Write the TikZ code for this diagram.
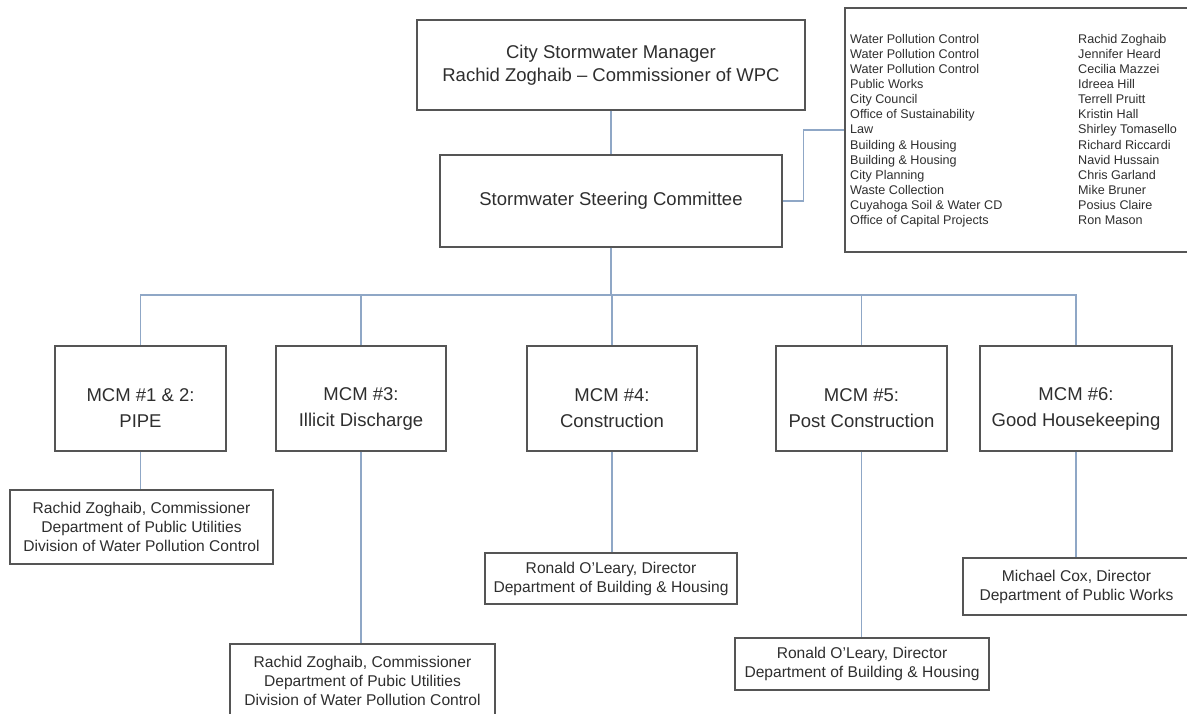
\documentclass[tikz,border=0pt]{standalone}
\usepackage{fontspec}
\setmainfont{Liberation Sans}
\definecolor{boxgray}{HTML}{555555}
\definecolor{txtgray}{HTML}{2E2E2E}
\definecolor{wire}{HTML}{8FA7C6}

\begin{document}
\begin{tikzpicture}[x=1pt, y=-1pt,
    box/.style={draw=boxgray, line width=1.2pt, inner sep=0pt, text=txtgray, align=center},
    bigtext/.style={font=\fontsize{18.5}{22.5}\selectfont},
    mcmbox/.style={box, minimum width=171pt, minimum height=105pt},
    mcmtext/.style={inner sep=0pt, text=txtgray, align=center, font=\fontsize{18.5}{26}\selectfont},
    headbox/.style={box, font=\fontsize{15.6}{19}\selectfont},
    listtext/.style={inner sep=0pt, text=txtgray, align=left, anchor=north west, font=\fontsize{12.6}{15.1}\selectfont},
    wireline/.style={draw=wire, line width=1.2pt}]

    \useasboundingbox (0,0) rectangle (1187,713);
    \clip (0,0) rectangle (1187,713);

    % Top: manager and steering committee
    \node[box, bigtext, minimum width=388pt, minimum height=90pt] (manager) at (611,65)
        {City Stormwater Manager\\Rachid Zoghaib -- Commissioner of WPC};
    \node[box, bigtext, minimum width=342pt, minimum height=92pt] (steering) at (611,201)
        {Stormwater Steering Committee};

    % Committee members
    \node[box, minimum width=355pt, minimum height=244pt] (members) at (1022.5,130) {};
    \node[listtext] (depts) at (850,34) {Water Pollution Control\\Water Pollution Control\\Water Pollution Control\\Public Works\\City Council\\Office of Sustainability\\Law\\Building \& Housing\\Building \& Housing\\City Planning\\Waste Collection\\Cuyahoga Soil \& Water CD\\Office of Capital Projects};
    \node[listtext] (names) at (1078,34) {Rachid Zoghaib\\Jennifer Heard\\Cecilia Mazzei\\Idreea Hill\\Terrell Pruitt\\Kristin Hall\\Shirley Tomasello\\Richard Riccardi\\Navid Hussain\\Chris Garland\\Mike Bruner\\Posius Claire\\Ron Mason};

    % MCM boxes
    \node[mcmbox] (mcm1) at (140.5,398.5) {};
    \node[mcmbox, minimum width=170pt] (mcm3) at (361,398.5) {};
    \node[mcmbox, minimum width=170pt] (mcm4) at (612,398.5) {};
    \node[mcmbox] (mcm5) at (861.5,398.5) {};
    \node[mcmbox, minimum width=192pt] (mcm6) at (1076,398.5) {};
    \node[mcmtext] (mcm1t) at ([yshift=-10pt]mcm1.center) {MCM \#1 \& 2:\\PIPE};
    \node[mcmtext] (mcm3t) at ([yshift=-10pt]mcm3.center) {MCM \#3:\\Illicit Discharge};
    \node[mcmtext] (mcm4t) at ([yshift=-10pt]mcm4.center) {MCM \#4:\\Construction};
    \node[mcmtext] (mcm5t) at ([yshift=-10pt]mcm5.center) {MCM \#5:\\Post Construction};
    \node[mcmtext] (mcm6t) at ([yshift=-10pt]mcm6.center) {MCM \#6:\\Good Housekeeping};

    % Heads
    \node[headbox, minimum width=263pt, minimum height=74pt] (head1) at (141.5,527)
        {Rachid Zoghaib, Commissioner\\Department of Public Utilities\\Division of Water Pollution Control};
    \node[headbox, minimum width=265pt, minimum height=74pt] (head3) at (362.5,681)
        {Rachid Zoghaib, Commissioner\\Department of Pubic Utilities\\Division of Water Pollution Control};
    \node[headbox, minimum width=252pt, minimum height=51pt] (head4) at (611,578.5)
        {Ronald O'Leary, Director\\Department of Building \& Housing};
    \node[headbox, minimum width=254pt, minimum height=52pt] (head5) at (862,664)
        {Ronald O'Leary, Director\\Department of Building \& Housing};
    \node[headbox, minimum width=227pt, minimum height=57pt] (head6) at (1076.5,586.5)
        {Michael Cox, Director\\Department of Public Works};

    % Connectors
    \coordinate (bus) at (611,295);
    \draw[wireline] (manager) -- (steering);
    \draw[wireline] (steering.east) -- ++(21,0) |- (members.west);
    \draw[wireline] (steering) -- (bus);
    \foreach \m in {mcm1,mcm3,mcm4,mcm5,mcm6}
        \draw[wireline] (bus) -| (\m.north);
    \draw[wireline] (mcm1.south) -- (mcm1.south |- head1.north);
    \draw[wireline] (mcm3.south) -- (mcm3.south |- head3.north);
    \draw[wireline] (mcm4.south) -- (mcm4.south |- head4.north);
    \draw[wireline] (mcm5.south) -- (mcm5.south |- head5.north);
    \draw[wireline] (mcm6.south) -- (mcm6.south |- head6.north);

\end{tikzpicture}
\end{document}
